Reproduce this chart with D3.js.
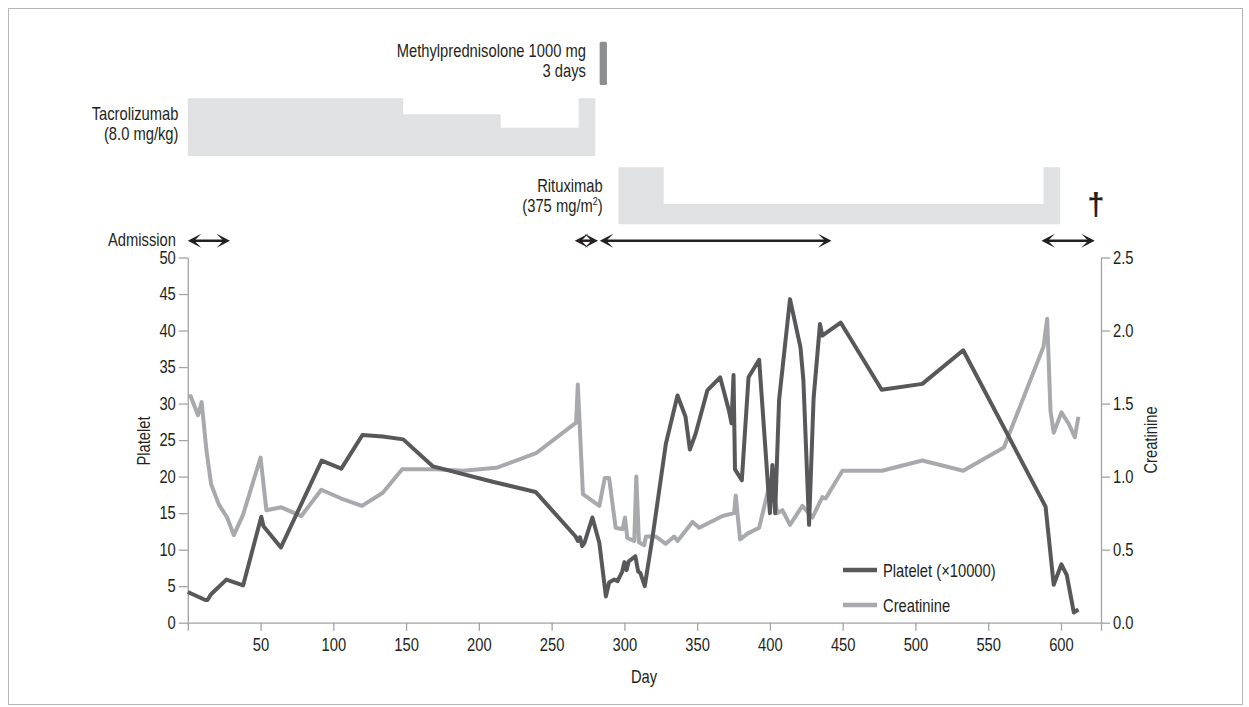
<!DOCTYPE html>
<html>
<head>
<meta charset="utf-8">
<script src="https://cdn.jsdelivr.net/npm/d3@7"></script>
<style>
  html, body { margin: 0; padding: 0; background: #fff; }
  svg text { font-family: "Liberation Sans", Arial, sans-serif; fill: #231f20; }
</style>
</head>
<body>
<svg id="chart" width="1249" height="707"></svg>
<script>
// Platelet count (x10000) by day
const plateletDays = [0, 12, 13.5, 16, 26.5, 38, 50.5, 52, 64, 92, 105.5, 120, 134, 148, 168.5, 209.5, 239,
  266.5, 268, 269.5, 271, 272.5, 278, 282.8, 287.3, 289.5, 293, 295.3, 298.5, 300, 301.5, 303, 307.5, 309.5, 311, 314,
  319.4, 328.5, 336.5, 342, 345, 349, 357, 365.8, 372, 373.6, 375, 376, 380.7, 385.3, 392.6, 400, 401.7, 403.6,
  406.3, 413.8, 421, 423, 426.9, 430, 434.4, 436, 448.6, 476.8, 504.7, 532.8, 589.4, 595, 600.3, 604, 608.8, 612];
const plateletValues = [4.2, 3.1, 3.1, 3.9, 5.9, 5.1, 14.5, 13.2, 10.3, 22.2, 21.1, 25.7, 25.5, 25.1, 21.4, 19.3, 17.9,
  11.8, 11.2, 11.7, 10.5, 10.9, 14.4, 10.9, 3.6, 5.5, 5.9, 5.7, 7.0, 8.3, 7.2, 8.4, 9.1, 7.0, 6.8, 5.0,
  11.8, 24.5, 31.1, 28.2, 23.7, 25.9, 31.8, 33.6, 28.9, 27.3, 33.9, 21.0, 19.5, 33.6, 36.0, 15.0, 21.6, 15.0,
  30.5, 44.3, 37.7, 33.2, 13.4, 30.7, 40.9, 39.3, 41.1, 31.9, 32.7, 37.3, 15.9, 5.2, 8.0, 6.5, 1.4, 1.8];

// Serum creatinine by day
const creatinineDays = [0, 2, 7, 9.5, 10.5, 12.8, 16, 21.3, 27, 31.6, 38, 50, 54, 64.3, 78, 91.7, 105.5, 119.7, 134,
  147.3, 170, 189, 212, 239.3, 266.8, 268, 271.5, 282.8, 286.5, 289.5, 294, 298.8, 300.4, 302, 306.8, 308.2, 310,
  313.6, 314.8, 321.6, 328.5, 334.2, 336.5, 346.8, 351.4, 367.4, 375.4, 376.5, 379.5, 384.6, 392.6, 400.6, 405.2,
  408.6, 413.8, 422.3, 429.2, 436, 438.3, 449.8, 477, 504.7, 532.8, 560.8, 588, 590.5, 592.8, 595, 600.3, 605.4, 609.5, 612];
const creatinineValues = [1.55, 1.55, 1.42, 1.51, 1.41, 1.18, 0.95, 0.81, 0.72, 0.60, 0.74, 1.13, 0.77, 0.79, 0.73, 0.91, 0.85, 0.80, 0.89,
  1.05, 1.05, 1.04, 1.06, 1.16, 1.37, 1.63, 0.88, 0.80, 0.99, 0.99, 0.65, 0.64, 0.72, 0.58, 0.56, 1.00, 0.55,
  0.53, 0.59, 0.59, 0.54, 0.59, 0.56, 0.69, 0.65, 0.73, 0.75, 0.87, 0.57, 0.61, 0.65, 0.98, 0.75,
  0.77, 0.67, 0.80, 0.72, 0.86, 0.85, 1.04, 1.04, 1.11, 1.04, 1.20, 1.89, 2.08, 1.45, 1.30, 1.44, 1.36, 1.27, 1.41];

// Treatment periods: [start day, end day, dose]
const tacrolimusPeriods = [[0, 148, 8.0], [148, 215, 5.8], [215, 268.6, 3.9], [268.6, 280, 8.0]];
const rituximabPeriods = [[296, 327, 375], [327, 588, 134], [588, 599.5, 375]];
const methylprednisolonePeriod = [283, 288];

// Hospital stays: [start day, end day]
const stayPeriods = [[0, 29], [265.9, 281.9], [283.1, 442.3], [586.6, 623.2]];

const xTicks = [50, 100, 150, 200, 250, 300, 350, 400, 450, 500, 550, 600];
const plateletTicks = [0, 5, 10, 15, 20, 25, 30, 35, 40, 45, 50];
const creatinineTicks = [0, 0.5, 1.0, 1.5, 2.0, 2.5];

const svg = d3.select("#chart");
const axisColor = "#a3a3a3";
const darkLine = "#58585a";
const lightLine = "#a7a9ac";
const FS = 18;          // label font size
const NARROW = 0.82;    // horizontal compression for a narrow face

// squeeze text horizontally while keeping its anchor position
function narrow(sel) {
  sel.each(function () {
    const el = d3.select(this);
    const xa = el.attr("x");
    if (xa !== null) el.attr("x", (+xa) / NARROW);
    el.selectAll("tspan").each(function () {
      const t = d3.select(this);
      const tx = t.attr("x");
      if (tx !== null) t.attr("x", (+tx) / NARROW);
    });
    const tr = el.attr("transform") || "";
    el.attr("transform", (tr + ` scale(${NARROW},1)`).trim());
  });
  return sel;
}

// outer frame
svg.append("rect").attr("x", 8.5).attr("y", 8.5).attr("width", 1234).attr("height", 696)
  .attr("fill", "none").attr("stroke", "#b5b5b5").attr("stroke-width", 1);

const x = d3.scaleLinear().domain([0, 627.5]).range([187.8, 1101]);
const yL = d3.scaleLinear().domain([0, 50]).range([622.7, 257.5]);
const yR = d3.scaleLinear().domain([0, 2.5]).range([622.7, 257.5]);

// ---- axes ----
function styleAxis(g) {
  g.select(".domain").attr("stroke", axisColor).attr("stroke-width", 1.3);
  g.selectAll(".tick line").attr("stroke", axisColor).attr("stroke-width", 1.3);
  g.selectAll(".tick text").attr("font-size", FS).attr("fill", "#231f20").call(narrow);
}

svg.append("g").attr("transform", "translate(0,622.7)")
  .call(d3.axisBottom(x).tickValues(xTicks).tickSizeInner(8).tickSizeOuter(8).tickPadding(8))
  .call(styleAxis);

svg.append("g").attr("transform", "translate(187.8,0)")
  .call(d3.axisLeft(yL).tickValues(plateletTicks).tickSizeInner(9).tickSizeOuter(0).tickPadding(3))
  .call(styleAxis);

svg.append("g").attr("transform", "translate(1101,0)")
  .call(d3.axisRight(yR).tickValues(creatinineTicks).tickFormat(d3.format(".1f")).tickSizeInner(9).tickSizeOuter(0).tickPadding(3))
  .call(styleAxis);

svg.append("text").attr("x", 644).attr("y", 683).attr("text-anchor", "middle").attr("font-size", FS).text("Day").call(narrow);
svg.append("text").attr("transform", "translate(150,441) rotate(-90)").attr("text-anchor", "middle").attr("font-size", FS).text("Platelet").call(narrow);
svg.append("text").attr("transform", "translate(1157,440) rotate(-90)").attr("text-anchor", "middle").attr("font-size", FS).text("Creatinine").call(narrow);

// ---- series ----
const platelet = plateletDays.map((d, i) => [d, plateletValues[i]]);
const creatinine = creatinineDays.map((d, i) => [d, creatinineValues[i]]);

svg.append("path").datum(creatinine)
  .attr("fill", "none").attr("stroke", lightLine).attr("stroke-width", 4).attr("stroke-linejoin", "round")
  .attr("d", d3.line().x(d => x(d[0])).y(d => yR(d[1])));

svg.append("path").datum(platelet)
  .attr("fill", "none").attr("stroke", darkLine).attr("stroke-width", 4).attr("stroke-linejoin", "round")
  .attr("d", d3.line().x(d => x(d[0])).y(d => yL(d[1])));

// ---- legend ----
const legend = [["Platelet (\u00d710000)", darkLine, 570], ["Creatinine", lightLine, 605]];
legend.forEach(([label, color, ly]) => {
  svg.append("line").attr("x1", 843).attr("x2", 877).attr("y1", ly).attr("y2", ly)
    .attr("stroke", color).attr("stroke-width", 4.5);
  svg.append("text").attr("x", 883).attr("y", ly + 7).attr("font-size", FS).text(label).call(narrow);
});

// ---- treatment bars ----
const tacroH = d3.scaleLinear().domain([0, 8]).range([0, 57.7]);
const tacroBase = 156;
const tacroArea = d3.area().curve(d3.curveStepAfter)
  .x(d => x(d[0])).y0(tacroBase).y1(d => tacroBase - tacroH(d[1]));
const tacroLast = tacrolimusPeriods[tacrolimusPeriods.length - 1];
const tacroPts = tacrolimusPeriods.map(p => [p[0], p[2]]).concat([[tacroLast[1], tacroLast[2]]]);
svg.append("path").datum(tacroPts).attr("fill", "#e0e1e2").attr("d", tacroArea);

const rituxH = d3.scaleLinear().domain([0, 375]).range([0, 57]);
const rituxBase = 224.3;
const rituxArea = d3.area().curve(d3.curveStepAfter)
  .x(d => x(d[0])).y0(rituxBase).y1(d => rituxBase - rituxH(d[1]));
const rituxLast = rituximabPeriods[rituximabPeriods.length - 1];
const rituxPts = rituximabPeriods.map(p => [p[0], p[2]]).concat([[rituxLast[1], rituxLast[2]]]);
svg.append("path").datum(rituxPts).attr("fill", "#e0e1e2").attr("d", rituxArea);

svg.append("rect")
  .attr("x", x(methylprednisolonePeriod[0])).attr("width", x(methylprednisolonePeriod[1]) - x(methylprednisolonePeriod[0]))
  .attr("y", 41.7).attr("height", 43.3).attr("rx", 1.5)
  .attr("fill", "#8d8e90");

// treatment labels
function label(lines, xr, y0, dy) {
  const t = svg.append("text").attr("text-anchor", "end").attr("font-size", FS);
  lines.forEach((l, i) => t.append("tspan").attr("x", xr).attr("y", y0 + i * dy).text(l));
  t.call(narrow);
}
label(["Methylprednisolone 1000 mg", "3 days"], 586, 57, 20);
label(["Tacrolizumab", "(8.0 mg/kg)"], 178.5, 120, 20.5);
label(["Rituximab"], 602.7, 191.7, 0);
const rt = svg.append("text").attr("x", 602.7).attr("y", 212).attr("text-anchor", "end").attr("font-size", FS);
rt.append("tspan").text("(375 mg/m");
rt.append("tspan").attr("font-size", 11).attr("dy", -7).text("2");
rt.append("tspan").attr("dy", 7).text(")");
rt.call(narrow);

// ---- hospital stay arrows ----
const arrowY = 240.7;
const headLen = 13.5, headHalf = 7, notch = 6.5;
stayPeriods.forEach(([s, e]) => {
  const x0 = x(s), x1 = x(e);
  const g = svg.append("g").attr("fill", "#231f20");
  g.append("line").attr("x1", x0 + 3).attr("x2", x1 - 3).attr("y1", arrowY).attr("y2", arrowY)
    .attr("stroke", "#231f20").attr("stroke-width", 2.5);
  g.append("path").attr("d",
    `M${x0},${arrowY} L${x0 + headLen},${arrowY - headHalf} L${x0 + notch},${arrowY} L${x0 + headLen},${arrowY + headHalf} Z`);
  g.append("path").attr("d",
    `M${x1},${arrowY} L${x1 - headLen},${arrowY - headHalf} L${x1 - notch},${arrowY} L${x1 - headLen},${arrowY + headHalf} Z`);
});
svg.append("text").attr("x", 176).attr("y", 246).attr("text-anchor", "end").attr("font-size", FS).text("Admission").call(narrow);

// death marker
svg.append("text").attr("x", x(624)).attr("y", 215).attr("text-anchor", "middle")
  .attr("font-size", 31).attr("font-weight", "bold").text("\u2020");
</script>
</body>
</html>
